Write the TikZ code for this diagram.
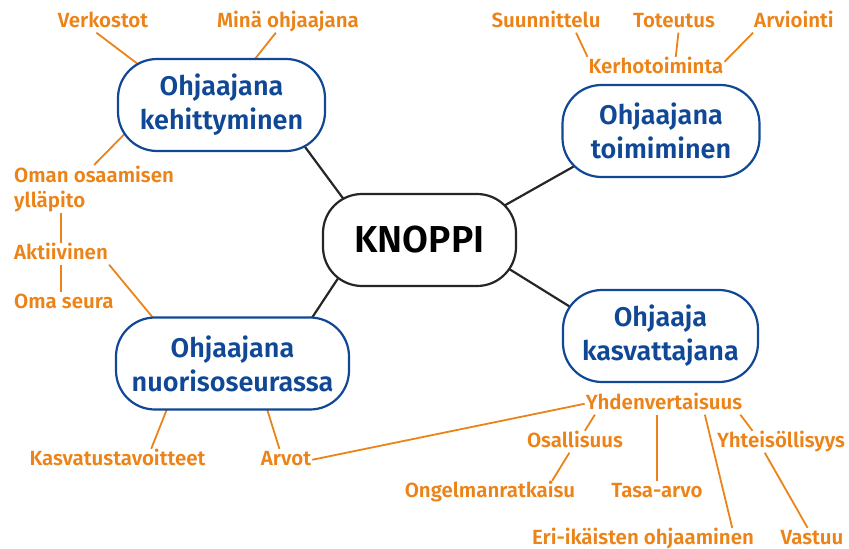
\documentclass[tikz,border=0pt]{standalone}
\usepackage{fontspec}
\setmainfont{Fira Sans}[BoldFont={Fira Sans SemiBold}]
\usetikzlibrary{backgrounds}
\definecolor{knorange}{RGB}{236,131,24}
\definecolor{knblue}{RGB}{16,72,150}
\tikzset{
  hub/.style={draw=black!85, line width=2.2pt, fill=white, rounded corners=39pt,
    minimum width=193pt, minimum height=92pt, outer sep=0pt,
    font=\bfseries\fontsize{37.5}{40}\selectfont},
  theme/.style={draw=knblue, line width=2.2pt, fill=white, rounded corners=39pt,
    minimum height=92pt, outer sep=0pt, align=center, text=knblue,
    font=\bfseries\fontsize{27}{34}\selectfont},
  topic/.style={text=knorange, inner sep=1pt, anchor=base, text height=15pt,
    text depth=4.5pt, font=\bfseries\fontsize{20.5}{25}\selectfont},
  topicpair/.style={text=knorange, inner sep=1pt, anchor=north west, align=left,
    font=\bfseries\fontsize{20.5}{25}\selectfont},
  stem/.style={knorange, line width=1.8pt},
  spoke/.style={black!85, line width=2.2pt, shorten <=-20pt, shorten >=-20pt},
  tobox/.style={shorten >=-20pt}
}
\begin{document}
\begin{tikzpicture}[x=1pt, y=-1pt]
\useasboundingbox (0,0) rectangle (849,549);
% main boxes
\node[hub] (knoppi) at (419.5,240) {KNOPPI};
\node[theme, minimum width=207pt] (kehit) at (221.5,105) {Ohjaajana\\kehittyminen};
\node[theme, minimum width=197pt] (toim) at (661,131) {Ohjaajana\\toimiminen};
\node[theme, minimum width=233pt] (nuor) at (232.5,363.5) {Ohjaajana\\nuorisoseurassa};
\node[theme, minimum width=195pt] (kasv) at (660.5,336) {Ohjaaja\\kasvattajana};
% topics
\node[topic] (verk) at (103,27) {Verkostot};
\node[topic] (mina) at (288,27) {Minä ohjaajana};
\node[topic] (suun) at (546,27) {Suunnittelu};
\node[topic] (tot) at (674,27) {Toteutus};
\node[topic] (arvi) at (794,27) {Arviointi};
\node[topic] (kerho) at (656,73) {Kerhotoiminta};
\node[topicpair] (oman) at (13,165) {Oman osaamisen\\ylläpito};
\node[topic, anchor=base west] (akt) at (13,259) {Aktiivinen};
\node[topic, anchor=base west] (omaseura) at (13,308) {Oma seura};
\node[topic] (kasvt) at (117.5,465) {Kasvatustavoitteet};
\node[topic] (arvot) at (286,465) {Arvot};
\node[topic] (yhden) at (664,409) {Yhdenvertaisuus};
\node[topic] (osal) at (575,447) {Osallisuus};
\node[topic] (yht) at (781,447) {Yhteisöllisyys};
\node[topic] (ongel) at (490,497) {Ongelmanratkaisu};
\node[topic] (tasa) at (657,497) {Tasa-arvo};
\node[topic] (eri) at (643,544) {Eri-ikäisten ohjaaminen};
\node[topic] (vast) at (812,544) {Vastuu};
% connectors
\begin{scope}[on background layer]
\draw[spoke] (knoppi.150) -- (kehit.-28);
\draw[spoke] (knoppi.23) -- (toim.203);
\draw[spoke] (knoppi.208) -- (nuor.30);
\draw[spoke] (knoppi.-19) -- (kasv.161);
\draw[stem, tobox] (verk.-121) -- (kehit.153);
\draw[stem, tobox] (mina.-138) -- (kehit.54);
\draw[stem, tobox] (oman.north) -- (kehit.199);
\draw[stem] (akt.north |- oman.south) -- (akt.north);
\draw[stem] (akt.south) -- (akt.south |- omaseura.north);
\draw[stem, tobox] (akt.south east) -- (nuor.150);
\draw[stem, shorten <=-20pt] (nuor.215) -- (kasvt.18);
\draw[stem, shorten <=-20pt] (nuor.-53) -- (arvot.121);
\draw[stem] (arvot.east) -- (yhden.west);
\draw[stem] (yhden.189) -- (osal.48);
\draw[stem] (tasa.north |- yhden.south) -- (tasa.north);
\draw[stem] (yhden.-15) -- (eri.7);
\draw[stem] ([xshift=-3pt]yhden.south east) -- (yht.159);
\draw[stem] (osal.-117) -- (ongel.10);
\draw[stem] (yht.-146) -- (vast.112);
\draw[stem] (suun.-20) -- (kerho.north west);
\draw[stem] (tot.-68) -- (kerho.29);
\draw[stem] (arvi.south west) -- (kerho.5);
\end{scope}
\end{tikzpicture}
\end{document}
